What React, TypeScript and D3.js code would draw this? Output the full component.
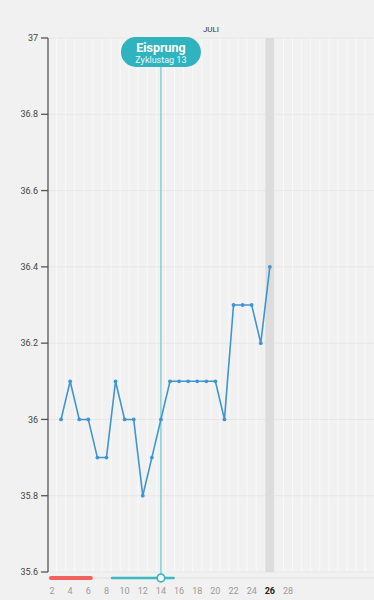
import React from "react";
import * as d3 from "d3";

const days = [3, 4, 5, 6, 7, 8, 9, 10, 11, 12, 13, 14, 15, 16, 17, 18, 19, 20, 21, 22, 23, 24, 25, 26];
const temps = [36.0, 36.1, 36.0, 36.0, 35.9, 35.9, 36.1, 36.0, 36.0, 35.8, 35.9, 36.0, 36.1, 36.1, 36.1, 36.1, 36.1, 36.1, 36.0, 36.3, 36.3, 36.3, 36.2, 36.4];
const yTicks = [35.6, 35.8, 36.0, 36.2, 36.4, 36.6, 36.8, 37.0];
const xTickDays = [2, 4, 6, 8, 10, 12, 14, 16, 18, 20, 22, 24, 26, 28];
const todayDay = 26;
const ovulationDay = 14;
const ovulationTitle = "Eisprung";
const ovulationSub = "Zyklustag 13";
const monthLabel = "JULI";
const periodDays = [1, 6];
const fertileDays = [9, 15];

const W = 374;
const H = 600;

export default function App() {
  const x = d3.scaleLinear().domain([2, 28]).range([52, 288]);
  const step = x(3) - x(2);
  const y = d3.scaleLinear().domain([35.6, 37]).range([572, 38]);
  const axisX = 48;
  const top = y(37);
  const bottom = y(35.6);
  const barY = 578;

  const line = d3
    .line<number>()
    .x((_, i) => x(days[i]))
    .y((v) => y(v));

  const gridDays = d3.range(1, 42);
  const fmt = (v: number) => (Math.round(v * 10) / 10).toString();

  const periodX0 = Math.max(x(periodDays[0]) - step / 2, axisX + 1);
  const periodX1 = x(periodDays[1]) + step / 2;
  const fertX0 = x(fertileDays[0]) - step / 2;
  const fertX1 = x(fertileDays[1]) + step / 2;
  const ox = x(ovulationDay);

  return (
    <svg
      width={W}
      height={H}
      style={{ position: "absolute", left: 0, top: 0, background: "#f1f1f1", fontFamily: "Roboto, 'Noto Sans', sans-serif" }}
    >
      <rect x={0} y={0} width={W} height={H} fill="#f1f1f1" />
      {gridDays.map((d) => {
        const gx = x(d) - step / 2;
        if (gx <= axisX) return null;
        return <line key={"v" + d} x1={gx} x2={gx} y1={top} y2={bottom} stroke="#f9f9f9" strokeWidth={1} />;
      })}
      {yTicks.map((t) => (
        <line key={"h" + t} x1={axisX} x2={W} y1={y(t)} y2={y(t)} stroke="#e7e7e7" strokeWidth={1} />
      ))}
      <rect x={x(todayDay) - step / 2} y={top} width={step} height={bottom - top} fill="#dcdcdc" />
      <line x1={axisX} x2={axisX} y1={top} y2={bottom} stroke="#555" strokeWidth={1.3} />
      {yTicks.map((t) => (
        <g key={"t" + t}>
          <line x1={axisX - 7} x2={axisX} y1={y(t)} y2={y(t)} stroke="#555" strokeWidth={1.3} />
          <text x={axisX - 10} y={y(t)} dy="0.35em" textAnchor="end" fontSize={9} fill="#444">
            {fmt(t)}
          </text>
        </g>
      ))}
      <text x={211} y={32} textAnchor="middle" fontSize={8} fill="#333">
        {monthLabel}
      </text>
      <line x1={axisX} x2={W} y1={barY} y2={barY} stroke="#dedede" strokeWidth={1} />
      <line x1={periodX0 + 2} x2={periodX1 - 2} y1={barY} y2={barY} stroke="#f0605c" strokeWidth={4} strokeLinecap="round" />
      <line x1={fertX0 + 1} x2={fertX1 - 1} y1={barY} y2={barY} stroke="#3bb8c3" strokeWidth={2.5} strokeLinecap="round" />
      <line x1={ox} x2={ox} y1={66} y2={barY} stroke="#52c0cb" strokeWidth={1} />
      <circle cx={ox} cy={barY} r={3.8} fill="#fff" stroke="#3bb8c3" strokeWidth={1.8} />
      <path d={line(temps) || ""} fill="none" stroke="#3f95cf" strokeWidth={1.6} />
      {temps.map((v, i) => (
        <circle key={"p" + i} cx={x(days[i])} cy={y(v)} r={1.9} fill="#3f95cf" />
      ))}
      <rect x={ox - 40} y={37} width={80} height={30} rx={15} fill="#2fb3bf" />
      <text x={ox} y={52} textAnchor="middle" fontSize={12.5} fontWeight="bold" fill="#fff">
        {ovulationTitle}
      </text>
      <text x={ox} y={63} textAnchor="middle" fontSize={9} fill="#e8f8fa">
        {ovulationSub}
      </text>
      {xTickDays.map((d) => (
        <text
          key={"x" + d}
          x={x(d)}
          y={594}
          textAnchor="middle"
          fontSize={9}
          fill={d === todayDay ? "#222" : "#9a9a9a"}
          fontWeight={d === todayDay ? "bold" : "normal"}
        >
          {d}
        </text>
      ))}
    </svg>
  );
}
